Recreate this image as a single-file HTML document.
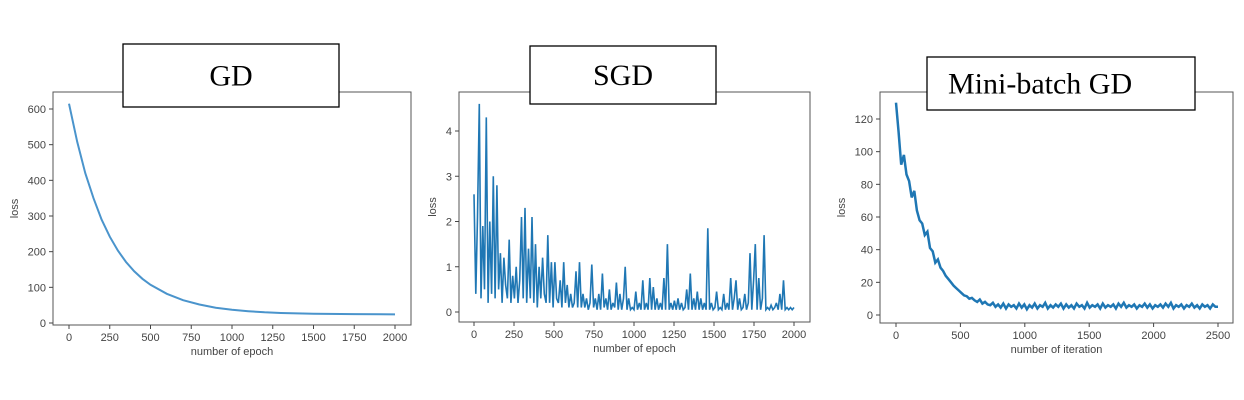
<!DOCTYPE html>
<html><head><meta charset="utf-8"><style>
body{margin:0;background:#fff;width:1244px;height:400px;overflow:hidden}
svg{position:absolute;left:0;top:0}
.t{font-family:"Liberation Sans",sans-serif;font-size:11px;fill:#444}
.ttl{font-family:"Liberation Serif",serif;font-size:30px;fill:#000}
</style></head><body>
<svg id="s" width="1244" height="400"></svg>
<script>
const gdX=[0,50,100,150,200,250,300,350,400,450,500,600,700,800,900,1000,1100,1200,1300,1400,1500,1750,2000];
const gdY=[615,508,420,350,290,242,203,171,145,124,107,82,64,52,43,37,33,30,28,27,26,25,24];
const sgdY=[2.6,0.4,2.1,4.6,0.3,1.9,0.5,4.3,0.2,2.0,0.4,3.0,0.3,2.8,0.5,1.3,0.2,1.2,0.6,0.3,1.6,0.2,0.8,0.3,1.0,0.2,0.7,2.1,0.3,2.3,0.2,1.4,0.3,2.1,0.2,1.5,0.1,1.0,0.3,1.2,0.4,0.2,1.7,0.2,1.1,0.1,1.1,0.3,0.2,0.7,0.1,1.1,0.2,0.6,0.1,0.4,0.1,0.2,0.9,0.1,1.1,0.1,0.4,0.1,0.3,0.05,0.2,1.05,0.1,0.3,0.05,0.4,0.05,0.85,0.1,0.3,0.05,0.5,0.05,0.2,0.1,0.65,0.05,0.4,0.05,0.3,1.0,0.05,0.3,0.05,0.1,0.05,0.45,0.05,0.2,0.05,0.7,0.05,0.2,0.05,0.75,0.05,0.55,0.05,0.3,0.05,0.2,0.05,0.75,0.05,1.5,0.05,0.2,0.05,0.25,0.05,0.3,0.05,0.2,0.05,0.1,0.5,0.05,0.85,0.05,0.3,0.05,0.45,0.05,0.3,0.05,0.2,0.05,1.85,0.05,0.2,0.05,0.1,0.45,0.05,0.1,0.05,0.4,0.05,0.2,0.05,0.75,0.05,0.3,0.7,0.05,0.3,0.05,0.1,0.4,0.05,0.2,1.3,0.05,0.7,1.5,0.05,0.75,0.05,0.3,1.7,0.05,0.1,0.05,0.15,0.05,0.1,0.2,0.05,0.4,0.05,0.7,0.05,0.1,0.05,0.1,0.05,0.1];
const mbY=[130,112,92,98,86,82,72,76,64,58,56,49,51,41,39,32,34,29,27,24,22,20,18,16.5,15,13.5,12,11.5,10,10.5,9,8,9.5,7,8,6.5,6,7.5,5,6.5,4.5,7,4,6.5,5,6,4,7,4.5,6.5,3.5,6,4.5,7,4,6,5,7.5,4,6,4.5,6.5,5,7,4,6.5,4.5,6,4,7,5,6,4,7.5,4.5,6,5,6.5,4,7,4.5,6,5,6.5,4,7,5,7.5,4.5,6,5,6.5,4,6,5,7,4.5,6.5,4,6,5,6.5,4.5,7,5,7.5,4,6,5,6.5,4,6,5,7,4.5,6,4,6.5,5,6,4,6.5,5,5];
const gdXT=[0,250,500,750,1000,1250,1500,1750,2000],gdYT=[0,100,200,300,400,500,600];
const sgdXT=[0,250,500,750,1000,1250,1500,1750,2000],sgdYT=[0,1,2,3,4];
const mbXT=[0,500,1000,1500,2000,2500],mbYT=[0,20,40,60,80,100,120];
const S=document.getElementById('s'),NS='http://www.w3.org/2000/svg';
function mk(t,a,p){const e=document.createElementNS(NS,t);for(const k in a)e.setAttribute(k,a[k]);(p||S).appendChild(e);return e;}
function chart(c){
 const g=mk('g',{});
 
 
 const sx=v=>c.x0+(v-c.xa)/(c.xb-c.xa)*(c.x1-c.x0), sy=v=>c.y0+(v-c.ya)/(c.yb-c.ya)*(c.y1-c.y0);
 const step=c.xs?0:c.xmax/(c.ys.length-1);
 const pts=c.ys.map((y,i)=>sx(c.xs?c.xs[i]:i*step).toFixed(1)+','+sy(y).toFixed(1)).join(' ');
 const pl=mk('polyline',{points:pts,fill:'none',stroke:c.col,'stroke-width':c.lw,'stroke-linejoin':'miter','stroke-miterlimit':3},g);
 
 
 const fr=mk('rect',{x:c.L,y:c.T,width:c.R-c.L,height:c.B-c.T,fill:'none',stroke:'#555','stroke-width':1},g);
 
 
 c.xt.forEach(v=>{const x=sx(v);mk('line',{x1:x,x2:x,y1:c.B,y2:c.B+4,stroke:'#444'},g);
  const t=mk('text',{x:x,y:c.B+16,'text-anchor':'middle',class:'t'},g);t.textContent=v;
  
  });
 c.yt.forEach(v=>{const y=sy(v);mk('line',{x1:c.L-4,x2:c.L,y1:y,y2:y,stroke:'#444'},g);
  const t=mk('text',{x:c.L-7,y:y+4,'text-anchor':'end',class:'t'},g);t.textContent=v;
  
  });
 const xl=mk('text',{x:(c.L+c.R)/2,y:c.B+30,'text-anchor':'middle',class:'t'},g);xl.textContent=c.xl;
 
 
 const yl=mk('text',{x:0,y:0,'text-anchor':'middle',class:'t',transform:`translate(${c.ylx},${(c.T+c.B)/2}) rotate(-90)`},g);yl.textContent='loss';
 
 
 const tb=mk('rect',{x:c.tb[0],y:c.tb[1],width:c.tb[2],height:c.tb[3],fill:'#fff',stroke:'#000','stroke-width':1.3},g);
 
 
 const tt=mk('text',{x:c.tb[4],y:c.tb[1]+c.tb[3]/2+10,'text-anchor':c.ta,class:'ttl'},g);tt.textContent=c.title;
 
 
}
chart({name:'gd-chart',xs:gdX,ys:gdY,x0:69,x1:395,xa:0,xb:2000,y0:323,y1:109,ya:0,yb:600,L:53,R:411,T:92,B:325,xt:gdXT,yt:gdYT,xl:'number of epoch',ylx:18,col:'#4a94cc',lw:2,tb:[123,44,216,63,231],ta:'middle',title:'GD'});
chart({name:'sgd-chart',xmax:2000,ys:sgdY,x0:474,x1:794,xa:0,xb:2000,y0:312,y1:131,ya:0,yb:4,L:459,R:810,T:92,B:322,xt:sgdXT,yt:sgdYT,xl:'number of epoch',ylx:436,col:'#1f77b4',lw:1.6,tb:[530,46,186,58,623],ta:'middle',title:'SGD'});
chart({name:'minibatch-chart',xmax:2500,ys:mbY,x0:896,x1:1218,xa:0,xb:2500,y0:315,y1:119,ya:0,yb:120,L:880,R:1233,T:92,B:323,xt:mbXT,yt:mbYT,xl:'number of iteration',ylx:845,col:'#1f77b4',lw:2.5,tb:[927,57,268,53,948],ta:'start',title:'Mini-batch GD'});
</script>
</body></html>
